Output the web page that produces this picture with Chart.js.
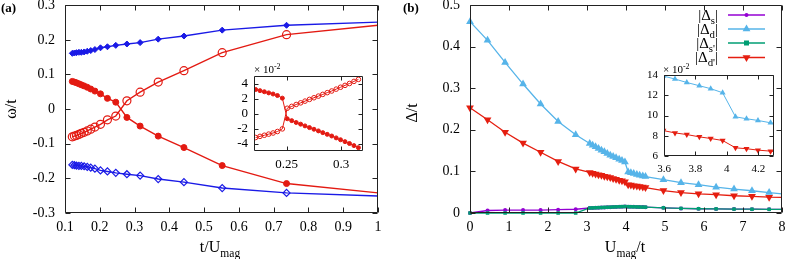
<!DOCTYPE html>
<html>
<head>
<meta charset="utf-8">
<script src="https://cdn.jsdelivr.net/npm/chart.js@4.4.1/dist/chart.umd.min.js"></script>
<style>
  body { margin: 0; background: #fff; }
  #wrap { position: relative; width: 787px; height: 259px; overflow: hidden; font-family: 'Liberation Serif', 'Times New Roman', serif; color: #000; }
  canvas { position: absolute; left: 0; top: 0; }
  .t { position: absolute; white-space: nowrap; line-height: 1; }
  .t sub { font-size: 0.72em; vertical-align: -0.4em; line-height: 0; }
  .t sup { font-size: 0.72em; vertical-align: 0.45em; line-height: 0; }
</style>
</head>
<body>
<div id="wrap">
  <canvas id="cA" width="787" height="259"></canvas>
  <canvas id="cAi" width="787" height="259"></canvas>
  <canvas id="cB" width="787" height="259"></canvas>
  <canvas id="cBi" width="787" height="259"></canvas>

  <div class="t" style="left:1px;top:1px;font-size:13px;font-weight:bold">(a)</div>
  <div class="t" style="left:11px;top:109px;transform:translate(-50%,-50%) rotate(-90deg);font-size:16px">ω/t</div>
  <div class="t" style="left:220px;top:239px;transform:translateX(-50%);font-size:16px">t/U<sub>mag</sub></div>
  <div class="t" style="left:254px;top:64px;font-size:11px">× 10<sup>-2</sup></div>

  <div class="t" style="left:403px;top:1px;font-size:13px;font-weight:bold">(b)</div>
  <div class="t" style="left:412px;top:113px;transform:translate(-50%,-50%) rotate(-90deg);font-size:16px">Δ/t</div>
  <div class="t" style="left:625px;top:239px;transform:translateX(-50%);font-size:16px">U<sub>mag</sub>/t</div>
  <div class="t" style="left:663px;top:64px;font-size:11px">× 10<sup>-2</sup></div>

  <div class="t" style="right:69px;top:8px;font-size:15px">|Δ<sub>s</sub>|</div>
  <div class="t" style="right:69px;top:22px;font-size:15px">|Δ<sub>d</sub>|</div>
  <div class="t" style="right:69px;top:36px;font-size:15px">|Δ<sub>s'</sub>|</div>
  <div class="t" style="right:69px;top:50px;font-size:15px">|Δ<sub>d'</sub>|</div>
</div>
<script>
// ---- panel (a): omega/t vs t/U_mag
const aX = [0.121, 0.127, 0.133, 0.140, 0.147, 0.155, 0.164, 0.174, 0.186, 0.202, 0.222, 0.246, 0.278, 0.316, 0.368, 0.442, 0.552, 0.737, 1.0];
const aBlueTop = [0.161, 0.162, 0.163, 0.164, 0.164, 0.165, 0.167, 0.169, 0.172, 0.177, 0.180, 0.184, 0.188, 0.192, 0.202, 0.211, 0.228, 0.242, 0.251];
const aBlueBot = [-0.161, -0.162, -0.163, -0.164, -0.164, -0.165, -0.167, -0.169, -0.172, -0.177, -0.180, -0.184, -0.188, -0.192, -0.202, -0.211, -0.228, -0.242, -0.251];
const aRedFill = [0.080, 0.078, 0.076, 0.073, 0.070, 0.067, 0.063, 0.058, 0.052, 0.044, 0.031, 0.020, -0.024, -0.049, -0.078, -0.111, -0.163, -0.215, -0.242];
const aRedOpen = [-0.080, -0.078, -0.076, -0.073, -0.070, -0.067, -0.063, -0.058, -0.052, -0.044, -0.031, -0.020, 0.024, 0.049, 0.078, 0.111, 0.163, 0.215, 0.242];
const aXTicks = [0.1, 0.2, 0.3, 0.4, 0.5, 0.6, 0.7, 0.8, 0.9, 1];
const aXLabels = ['0.1', '0.2', '0.3', '0.4', '0.5', '0.6', '0.7', '0.8', '0.9', '1'];
const aYTicks = [-0.3, -0.2, -0.1, 0, 0.1, 0.2, 0.3];
const aYLabels = ['-0.3', '-0.2', '-0.1', '0', '0.1', '0.2', '0.3'];

// inset (a), y in units of 1e-2
const iaX = [0.2215, 0.2255, 0.2295, 0.2335, 0.2375, 0.2415, 0.2460, 0.2505, 0.2546, 0.2587, 0.2628, 0.2668, 0.2709, 0.2750, 0.2791, 0.2831, 0.2872, 0.2913, 0.2954, 0.2994, 0.3035, 0.3076, 0.3117, 0.3158];
const iaFill = [3.2, 3.05, 2.9, 2.75, 2.6, 2.4, 2.05, -0.7, -0.95, -1.2, -1.42, -1.65, -1.88, -2.1, -2.32, -2.55, -2.78, -3.0, -3.25, -3.5, -3.75, -4.0, -4.28, -4.55];
const iaOpen = [-3.2, -3.05, -2.9, -2.75, -2.6, -2.4, -2.05, 0.7, 0.95, 1.2, 1.42, 1.65, 1.88, 2.1, 2.32, 2.55, 2.78, 3.0, 3.25, 3.5, 3.75, 4.0, 4.28, 4.55];
const iaXTicks = [0.25, 0.3];
const iaXLabels = ['0.25', '0.3'];
const iaYTicks = [-4, -2, 0, 2, 4];
const iaYLabels = ['-4', '-2', '0', '2', '4'];

// ---- panel (b): Delta/t vs U_mag/t
const bX = [0, 0.45, 0.9, 1.36, 1.81, 2.26, 2.71,
  3.07, 3.145, 3.22, 3.295, 3.37, 3.445, 3.52, 3.596, 3.67, 3.745, 3.825, 3.897, 3.973, 4.055, 4.125, 4.198, 4.278, 4.35, 4.43, 4.50,
  4.96, 5.41, 5.86, 6.31, 6.77, 7.23, 7.67, 8.0];
const bDs = [0, 0.006, 0.007, 0.007, 0.007, 0.008, 0.009,
  0.0120, 0.0123, 0.0126, 0.0129, 0.0132, 0.0135, 0.0138, 0.0141, 0.0144, 0.0147, 0.0150, 0.0153, 0.0156, 0.0152, 0.0150, 0.0148, 0.0146, 0.0144, 0.0142, 0.0140,
  0.0125, 0.0110, 0.0102, 0.0098, 0.0094, 0.0091, 0.0088, 0.0087];
const bDd = [0.460, 0.415, 0.362, 0.310, 0.262, 0.220, 0.188,
  0.167, 0.163, 0.159, 0.155, 0.151, 0.147, 0.143, 0.139, 0.136, 0.1326, 0.1294, 0.1265, 0.1225, 0.0987, 0.0968, 0.0951, 0.0928, 0.0910, 0.0890, 0.0875,
  0.080, 0.073, 0.068, 0.062, 0.0575, 0.0535, 0.049, 0.046];
const bDsp = [0, 0, 0, 0, 0, 0, 0,
  0.0120, 0.0123, 0.0126, 0.0129, 0.0132, 0.0135, 0.0138, 0.0141, 0.0144, 0.0147, 0.0150, 0.0153, 0.0156, 0.0152, 0.0150, 0.0148, 0.0146, 0.0144, 0.0142, 0.0140,
  0.0125, 0.0110, 0.0102, 0.0098, 0.0094, 0.0091, 0.0088, 0.0087];
const bDdp = [0.253, 0.224, 0.194, 0.168, 0.146, 0.124, 0.106,
  0.0975, 0.0958, 0.0940, 0.0920, 0.0905, 0.0885, 0.0870, 0.0851, 0.0828, 0.0812, 0.0789, 0.0773, 0.0753, 0.0681, 0.0672, 0.0658, 0.0648, 0.0635, 0.0622, 0.0610,
  0.054, 0.049, 0.046, 0.044, 0.0415, 0.040, 0.038, 0.0375];
const bXTicks = [0, 1, 2, 3, 4, 5, 6, 7, 8];
const bXLabels = ['0', '1', '2', '3', '4', '5', '6', '7', '8'];
const bYTicks = [0, 0.1, 0.2, 0.3, 0.4, 0.5];
const bYLabels = ['0', '0.1', '0.2', '0.3', '0.4', '0.5'];
// inset (b) shows the same data, labelled in units of 1e-2
const ibXTicks = [3.6, 3.8, 4, 4.2];
const ibXLabels = ['3.6', '3.8', '4', '4.2'];
const ibYTicks = [0.06, 0.08, 0.10, 0.12, 0.14];
const ibYLabels = ['6', '8', '10', '12', '14'];

const BLUE = '#1a1ae6', RED = '#e31a12';
const C_S = '#9400d3', C_D = '#56b4e9', C_SP = '#009e73', C_DP = '#e51e10';
const FONT = 'Liberation Serif';

const pts = (xs, ys) => xs.map((x, i) => ({ x: x, y: ys[i] }));
const lastNoMark = r => c => (c.dataIndex === c.dataset.data.length - 1 ? 0 : r);

// inward tick marks on all four sides + frame
const frame = {
  id: 'frame',
  afterDraw(chart, args, o) {
    const { ctx, chartArea: a, scales } = chart;
    const L = Math.round(a.left) + 0.5, R = Math.round(a.right) - 0.5;
    const T = Math.round(a.top) + 0.5, B = Math.round(a.bottom) - 0.5;
    const len = o.len || 5;
    ctx.save();
    ctx.strokeStyle = '#222';
    ctx.lineWidth = 1;
    ctx.beginPath();
    ctx.rect(L, T, R - L, B - T);
    scales.x.ticks.forEach(t => {
      const p = Math.round(scales.x.getPixelForValue(t.value)) + 0.5;
      ctx.moveTo(p, B); ctx.lineTo(p, B - len);
      ctx.moveTo(p, T); ctx.lineTo(p, T + len);
    });
    scales.y.ticks.forEach(t => {
      const p = Math.round(scales.y.getPixelForValue(t.value)) + 0.5;
      ctx.moveTo(L, p); ctx.lineTo(L + len, p);
      ctx.moveTo(R, p); ctx.lineTo(R - len, p);
    });
    ctx.stroke();
    ctx.restore();
  }
};

// key of panel (b): line samples with markers
const keyRows = [
  { y: 15, c: C_S, m: 'circle', r: 2 },
  { y: 29, c: C_D, m: 'tri', r: 4.5 },
  { y: 43, c: C_SP, m: 'square', r: 2.5 },
  { y: 57.5, c: C_DP, m: 'tridown', r: 4.5 }
];
const keyPlugin = {
  id: 'key',
  afterDraw(chart) {
    const ctx = chart.ctx;
    ctx.save();
    keyRows.forEach(k => {
      ctx.strokeStyle = k.c; ctx.fillStyle = k.c; ctx.lineWidth = 1.3;
      ctx.beginPath(); ctx.moveTo(728, k.y); ctx.lineTo(765, k.y); ctx.stroke();
      const cx = 746.5, cy = k.y, r = k.r;
      ctx.beginPath();
      if (k.m === 'circle') ctx.arc(cx, cy, r, 0, Math.PI * 2);
      else if (k.m === 'square') ctx.rect(cx - r, cy - r, 2 * r, 2 * r);
      else if (k.m === 'tri') { ctx.moveTo(cx, cy - r); ctx.lineTo(cx + r * 0.87, cy + r * 0.5); ctx.lineTo(cx - r * 0.87, cy + r * 0.5); ctx.closePath(); }
      else { ctx.moveTo(cx, cy + r); ctx.lineTo(cx + r * 0.87, cy - r * 0.5); ctx.lineTo(cx - r * 0.87, cy - r * 0.5); ctx.closePath(); }
      ctx.fill();
    });
    ctx.restore();
  }
};

function axes(area, xr, yr, fs, pad) {
  // area: {l, r, t, b} plot box in page pixels
  return {
    x: {
      type: 'linear', min: xr.min, max: xr.max,
      grid: { display: false, drawTicks: false }, border: { display: false },
      afterBuildTicks: s => { s.ticks = xr.ticks.map(v => ({ value: v })); },
      afterFit: s => { s.height = 259 - area.b; s.paddingLeft = 0; s.paddingRight = 0; },
      ticks: { autoSkip: false, maxRotation: 0, padding: pad.x, color: '#000', font: { family: FONT, size: fs },
        callback: (v, i) => xr.labels[i] }
    },
    y: {
      type: 'linear', min: yr.min, max: yr.max,
      grid: { display: false, drawTicks: false }, border: { display: false },
      afterBuildTicks: s => { s.ticks = yr.ticks.map(v => ({ value: v })); },
      afterFit: s => { s.width = area.l; s.paddingTop = 0; s.paddingBottom = 0; },
      ticks: { autoSkip: false, padding: pad.y, color: '#000', font: { family: FONT, size: fs },
        callback: (v, i) => yr.labels[i] }
    }
  };
}

function opts(area, xr, yr, fs, pad, len, clip) {
  return {
    responsive: false, maintainAspectRatio: false, animation: false, devicePixelRatio: 1,
    layout: { padding: { left: 0, top: area.t, right: 787 - area.r, bottom: 0 } },
    plugins: { legend: { display: false }, tooltip: { enabled: false }, frame: { len: len } },
    elements: { line: { tension: 0 } },
    scales: axes(area, xr, yr, fs, pad)
  };
}

// panel (a)
new Chart(document.getElementById('cA'), {
  type: 'line',
  data: {
    datasets: [
      { data: pts(aX, aBlueTop), borderColor: BLUE, backgroundColor: BLUE, borderWidth: 1.4, pointStyle: 'rectRot', pointRadius: lastNoMark(3), pointBorderWidth: 1, clip: false },
      { data: pts(aX, aBlueBot), borderColor: BLUE, backgroundColor: 'rgba(0,0,0,0)', borderWidth: 1.4, pointStyle: 'rectRot', pointRadius: lastNoMark(3.5), pointBorderWidth: 1.2, clip: false },
      { data: pts(aX, aRedFill), borderColor: RED, backgroundColor: RED, borderWidth: 1.4, pointStyle: 'circle', pointRadius: lastNoMark(3), pointBorderWidth: 1, clip: false },
      { data: pts(aX, aRedOpen), borderColor: RED, backgroundColor: 'rgba(0,0,0,0)', borderWidth: 1.4, pointStyle: 'circle', pointRadius: lastNoMark(4), pointBorderWidth: 1.2, clip: false }
    ]
  },
  options: opts({ l: 65, r: 378, t: 5, b: 213 },
    { min: 0.1, max: 1, ticks: aXTicks, labels: aXLabels },
    { min: -0.3, max: 0.3, ticks: aYTicks, labels: aYLabels }, 14, { x: 6, y: 10 }, 5),
  plugins: [frame]
});

// inset (a)
new Chart(document.getElementById('cAi'), {
  type: 'line',
  data: {
    datasets: [
      { data: pts(iaX, iaFill), borderColor: RED, backgroundColor: RED, borderWidth: 1, pointStyle: 'circle', pointRadius: 2, pointBorderWidth: 1 },
      { data: pts(iaX, iaOpen), borderColor: RED, backgroundColor: 'rgba(0,0,0,0)', borderWidth: 1, pointStyle: 'circle', pointRadius: 2.3, pointBorderWidth: 1 }
    ]
  },
  options: opts({ l: 254, r: 363, t: 76, b: 151 },
    { min: 0.22, max: 0.32, ticks: iaXTicks, labels: iaXLabels },
    { min: -5, max: 5, ticks: iaYTicks, labels: iaYLabels }, 13, { x: 6, y: 6 }, 4),
  plugins: [frame]
});

// panel (b)
new Chart(document.getElementById('cB'), {
  type: 'line',
  data: {
    datasets: [
      { data: pts(bX, bDsp), borderColor: C_SP, backgroundColor: C_SP, borderWidth: 1.3, pointStyle: 'rect', pointRadius: lastNoMark(2.5), pointBorderWidth: 0, clip: false },
      { data: pts(bX, bDs), borderColor: C_S, backgroundColor: C_S, borderWidth: 1.3, pointStyle: 'circle', pointRadius: lastNoMark(2), pointBorderWidth: 0, clip: false },
      { data: pts(bX, bDd), borderColor: C_D, backgroundColor: C_D, borderWidth: 1.3, pointStyle: 'triangle', pointRadius: lastNoMark(4.5), pointBorderWidth: 0, clip: false },
      { data: pts(bX, bDdp), borderColor: C_DP, backgroundColor: C_DP, borderWidth: 1.3, pointStyle: 'triangle', rotation: 180, pointRotation: 180, pointRadius: lastNoMark(4.5), pointBorderWidth: 0, clip: false }
    ]
  },
  options: opts({ l: 470, r: 782, t: 5, b: 213 },
    { min: 0, max: 8, ticks: bXTicks, labels: bXLabels },
    { min: 0, max: 0.5, ticks: bYTicks, labels: bYLabels }, 14, { x: 6, y: 10 }, 5),
  plugins: [frame, keyPlugin]
});

// inset (b)
new Chart(document.getElementById('cBi'), {
  type: 'line',
  data: {
    datasets: [
      { data: pts(bX, bDd), borderColor: C_D, backgroundColor: C_D, borderWidth: 1, pointStyle: 'triangle', pointRadius: 3.5, pointBorderWidth: 0 },
      { data: pts(bX, bDdp), borderColor: C_DP, backgroundColor: C_DP, borderWidth: 1, pointStyle: 'triangle', pointRotation: 180, pointRadius: 3.5, pointBorderWidth: 0 }
    ]
  },
  options: opts({ l: 664, r: 774, t: 75, b: 156 },
    { min: 3.6, max: 4.3, ticks: ibXTicks, labels: ibXLabels },
    { min: 0.06, max: 0.14, ticks: ibYTicks, labels: ibYLabels }, 11, { x: 7, y: 6 }, 4),
  plugins: [frame]
});
</script>
</body>
</html>
